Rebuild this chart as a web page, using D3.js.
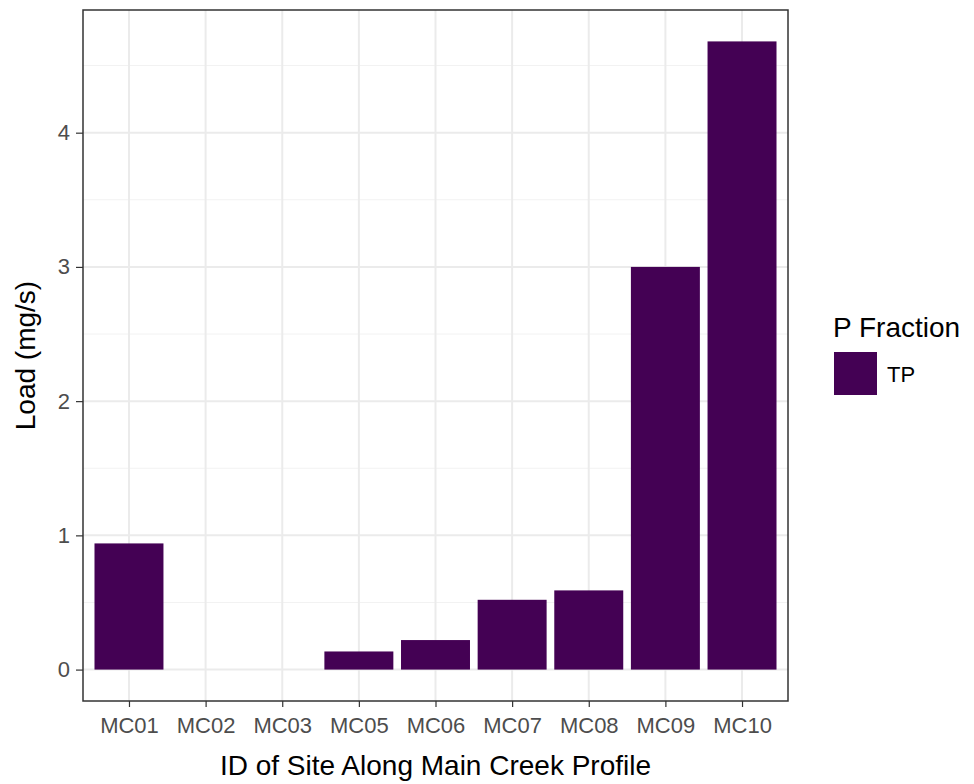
<!DOCTYPE html>
<html>
<head>
<meta charset="utf-8">
<script src="https://cdn.jsdelivr.net/npm/d3@7"></script>
<style>
  html, body { margin: 0; padding: 0; background: #fff; }
  svg { display: block; font-family: "Liberation Sans", Arial, sans-serif; }
</style>
</head>
<body>
<svg id="chart" width="974" height="784"></svg>
<script>
// Phosphorus load per site along the Main Creek profile
const sites = ["MC01", "MC02", "MC03", "MC05", "MC06", "MC07", "MC08", "MC09", "MC10"];
const tpLoad = [0.94, 0, 0, 0.135, 0.22, 0.52, 0.59, 3.0, 4.68];
const yTicks = [0, 1, 2, 3, 4];
const fractions = ["TP"];
const fractionColors = ["#440154"];

const svg = d3.select("#chart");
const panel = { left: 83, right: 788, top: 10, bottom: 701 };

// y scale with 5% padding on both ends, always including zero
const yMin = Math.min(0, d3.min(tpLoad));
const yMax = d3.max(tpLoad);
const pad = (yMax - yMin) * 0.05;
const y = d3.scaleLinear().domain([yMin - pad, yMax + pad]).range([panel.bottom, panel.top]);

// discrete x scale: 0.6 category padding at each side, bars 0.9 wide
const n = sites.length;
const step = (panel.right - panel.left) / (n - 1 + 1.2);
const x = d3.scalePoint().domain(sites)
  .range([panel.left + 0.6 * step, panel.right - 0.6 * step]);
const barW = 0.9 * step;

const color = d3.scaleOrdinal().domain(fractions).range(fractionColors);

// minor grid (halfway between major breaks)
const g = svg.append("g");
const minorY = yTicks.slice(0, -1).map(t => t + 0.5).concat([yTicks[yTicks.length - 1] + 0.5])
  .filter(v => y(v) >= panel.top && y(v) <= panel.bottom);
g.selectAll(".minor").data(minorY).join("line")
  .attr("x1", panel.left).attr("x2", panel.right)
  .attr("y1", d => y(d)).attr("y2", d => y(d))
  .attr("stroke", "#f2f2f2").attr("stroke-width", 1);

// major grid
g.selectAll(".majorY").data(yTicks).join("line")
  .attr("x1", panel.left).attr("x2", panel.right)
  .attr("y1", d => y(d)).attr("y2", d => y(d))
  .attr("stroke", "#ebebeb").attr("stroke-width", 2);
g.selectAll(".majorX").data(sites).join("line")
  .attr("x1", d => x(d)).attr("x2", d => x(d))
  .attr("y1", panel.top).attr("y2", panel.bottom)
  .attr("stroke", "#ebebeb").attr("stroke-width", 2);

// bars
svg.append("g").selectAll("rect").data(sites.map((s, i) => ({ site: s, v: tpLoad[i] })))
  .join("rect")
  .attr("x", d => x(d.site) - barW / 2)
  .attr("width", barW)
  .attr("y", d => y(Math.max(0, d.v)))
  .attr("height", d => Math.abs(y(d.v) - y(0)))
  .attr("fill", color("TP"));

// panel border
svg.append("rect")
  .attr("x", panel.left).attr("y", panel.top)
  .attr("width", panel.right - panel.left).attr("height", panel.bottom - panel.top)
  .attr("fill", "none").attr("stroke", "#333333").attr("stroke-width", 1.5);

// axes
const xAxis = svg.append("g")
  .attr("transform", `translate(0,${panel.bottom})`)
  .call(d3.axisBottom(x).tickSize(6).tickPadding(10));
const yAxis = svg.append("g")
  .attr("transform", `translate(${panel.left},0)`)
  .call(d3.axisLeft(y).tickValues(yTicks).tickFormat(d3.format("d")).tickSize(7).tickPadding(6));

[xAxis, yAxis].forEach(a => {
  a.select(".domain").remove();
  a.selectAll(".tick line").attr("stroke", "#333333").attr("stroke-width", 1.2);
  a.selectAll(".tick text").attr("fill", "#4d4d4d")
    .style("font-size", "22px").style("font-family", "'Liberation Sans', Arial, sans-serif");
});

// axis titles
svg.append("text")
  .attr("x", (panel.left + panel.right) / 2).attr("y", 775)
  .attr("text-anchor", "middle").attr("fill", "#000")
  .style("font-size", "28px")
  .text("ID of Site Along Main Creek Profile");

svg.append("text")
  .attr("transform", `translate(35,${(panel.top + panel.bottom) / 2}) rotate(-90)`)
  .attr("text-anchor", "middle").attr("fill", "#000")
  .style("font-size", "28px")
  .text("Load (mg/s)");

// legend
const legend = svg.append("g").attr("transform", "translate(833,0)");
legend.append("text")
  .attr("x", 0).attr("y", 337)
  .attr("fill", "#000").style("font-size", "28px")
  .text("P Fraction");
const keys = legend.selectAll(".key").data(fractions).join("g")
  .attr("transform", (d, i) => `translate(0,${352 + i * 44})`);
keys.append("rect")
  .attr("x", 1).attr("y", 0).attr("width", 43).attr("height", 43)
  .attr("fill", d => color(d));
keys.append("text")
  .attr("x", 54).attr("y", 22).attr("dy", "0.36em")
  .attr("fill", "#000").style("font-size", "22px")
  .text(d => d);
</script>
</body>
</html>
